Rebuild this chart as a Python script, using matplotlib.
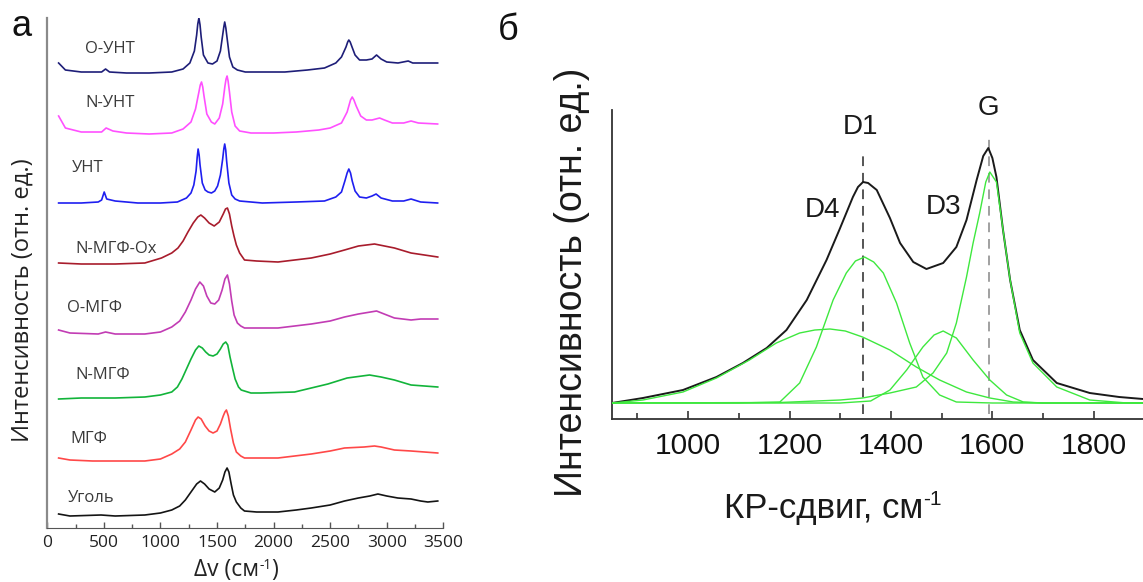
import matplotlib.pyplot as plt
from matplotlib.ticker import MultipleLocator

# ---- panel a: Raman spectra (stacked), intensity above each trace's own baseline ----
ugol_x = [100, 200, 475, 600, 862, 1000, 1100, 1170, 1220, 1270, 1320, 1354, 1390, 1430, 1480, 1520, 1550, 1570,
          1589, 1605, 1625, 1645, 1671, 1710, 1743, 1850, 2039, 2200, 2333, 2500, 2627, 2750, 2850, 2922, 3000,
          3098, 3215, 3300, 3363, 3451]
ugol_y = [2, 0, 1, 0, 1, 3, 6, 10, 16, 24, 32, 35, 32, 27, 24, 28, 36, 44,
          48, 44, 32, 21, 14, 8, 5, 4, 4, 6, 8, 11, 15, 18, 20, 22, 20,
          18, 17, 15, 14, 15]

mgf_x = [100, 200, 400, 862, 1000, 1100, 1170, 1220, 1270, 1310, 1333, 1360, 1395, 1430, 1465, 1500, 1530, 1555,
         1570, 1583, 1600, 1620, 1645, 1671, 1710, 1743, 2039, 2333, 2500, 2627, 2800, 2892, 2950, 3068, 3215, 3451]
mgf_y = [3, 1, 0, 0, 2, 7, 12, 19, 31, 41, 44, 42, 35, 30, 28, 30, 37, 45,
         49, 51, 45, 32, 18, 9, 5, 3, 3, 7, 10, 13, 14, 15, 14, 11, 10, 8]

nmgf_x = [100, 300, 600, 862, 1000, 1100, 1150, 1190, 1230, 1270, 1310, 1339, 1370, 1400, 1430, 1465, 1500, 1530,
          1555, 1577, 1595, 1615, 1637, 1660, 1690, 1714, 1800, 1890, 2186, 2480, 2650, 2848, 2950, 3068, 3215, 3451]
nmgf_y = [0, 1, 1, 2, 4, 7, 12, 20, 30, 40, 49, 53, 51, 47, 44, 43, 45, 50,
          55, 57, 54, 42, 31, 20, 12, 9, 6, 6, 7, 15, 21, 24, 22, 19, 14, 12]

omgf_x = [100, 200, 450, 515, 600, 862, 1000, 1100, 1170, 1220, 1270, 1310, 1348, 1380, 1410, 1445, 1480, 1515,
          1545, 1570, 1592, 1610, 1630, 1651, 1680, 1710, 1743, 2039, 2333, 2500, 2627, 2750, 2910, 3000, 3068,
          3215, 3300, 3451]
omgf_y = [4, 1, 0, 2, 0, 0, 2, 7, 13, 22, 34, 45, 52, 48, 38, 31, 30, 34,
          44, 55, 59, 50, 33, 19, 11, 8, 6, 6, 10, 13, 17, 20, 23, 19, 16,
          14, 15, 15]

nmgfox_x = [100, 300, 600, 862, 1009, 1100, 1155, 1200, 1243, 1290, 1330, 1357, 1390, 1430, 1475, 1520, 1555, 1575,
            1592, 1610, 1630, 1650, 1671, 1700, 1743, 1850, 2039, 2333, 2500, 2627, 2750, 2892, 2980, 3068, 3215,
            3451]
nmgfox_y = [1, 0, 0, 1, 6, 11, 16, 23, 32, 41, 47, 49, 46, 41, 38, 42, 50, 55,
            56, 50, 38, 28, 19, 11, 4, 3, 2, 6, 10, 14, 18, 20, 18, 16, 11,
            7]

unt_x = [100, 300, 450, 480, 503, 525, 600, 800, 1000, 1150, 1230, 1270, 1295, 1315, 1325, 1333, 1342, 1350, 1370,
         1395, 1420, 1451, 1480, 1505, 1530, 1550, 1560, 1568, 1577, 1585, 1605, 1630, 1660, 1700, 1900, 2200,
         2450, 2550, 2600, 2630, 2650, 2665, 2680, 2695, 2720, 2760, 2820, 2870, 2906, 2950, 3050, 3150, 3215,
         3300, 3450]
unt_y = [0, 0, 1, 3, 11, 4, 2, 0, 0, 1, 5, 10, 18, 32, 46, 54, 48, 38, 20,
         13, 11, 10, 12, 17, 28, 44, 54, 59, 53, 42, 20, 8, 4, 2, 0, 1,
         2, 6, 11, 22, 30, 34, 30, 22, 12, 6, 5, 7, 9, 5, 2, 2, 4,
         1, 0]

nunt_x = [100, 160, 300, 480, 520, 580, 700, 900, 1100, 1200, 1270, 1310, 1340, 1352, 1363, 1374, 1385, 1410, 1450,
          1480, 1520, 1550, 1570, 1580, 1589, 1598, 1610, 1630, 1660, 1700, 1800, 2000, 2200, 2400, 2500, 2600,
          2650, 2680, 2695, 2710, 2730, 2770, 2820, 2870, 2937, 2980, 3050, 3150, 3215, 3280, 3450]
nunt_y = [18, 6, 2, 2, 6, 3, 1, 0, 1, 5, 12, 25, 42, 49, 52, 47, 38, 20, 12,
          10, 16, 30, 48, 55, 58, 53, 42, 22, 8, 3, 1, 1, 2, 4, 6, 11,
          22, 34, 37, 34, 28, 18, 14, 14, 16, 14, 11, 11, 13, 11, 10]

ount_x = [100, 160, 300, 480, 515, 550, 700, 900, 1100, 1200, 1260, 1300, 1320, 1330, 1340, 1350, 1360, 1380, 1420,
          1460, 1500, 1530, 1550, 1560, 1568, 1578, 1590, 1610, 1640, 1680, 1750, 1900, 2100, 2300, 2450, 2550,
          2600, 2640, 2655, 2665, 2677, 2690, 2720, 2760, 2820, 2870, 2910, 2950, 3000, 3100, 3190, 3230, 3300,
          3450]
ount_y = [10, 3, 1, 1, 4, 1, 0, 0, 1, 4, 10, 22, 38, 49, 55, 48, 36, 18, 10,
          9, 12, 22, 38, 46, 51, 45, 34, 16, 6, 3, 1, 1, 1, 3, 5, 10,
          16, 26, 31, 33, 31, 27, 18, 13, 13, 14, 18, 14, 11, 10, 12, 10, 10,
          10]

names = ['Уголь', 'МГФ', 'N-МГФ', 'О-МГФ', 'N-МГФ-Ox', 'УНТ', 'N-УНТ', 'О-УНТ']
offsets = [12, 67, 129, 194, 264, 325, 394, 455]

# ---- panel б: deconvolution of the first-order band ----
exp_x = [850, 911, 990, 1056, 1108, 1155, 1194, 1234, 1273, 1299, 1325, 1335, 1345, 1355, 1372, 1398, 1418, 1444,
         1470, 1503, 1529, 1549, 1560, 1569, 1582, 1592, 1600, 1608, 1621, 1635, 1654, 1680, 1727, 1792, 1850, 1897]
exp_y = [17, 22, 30, 43, 57, 72, 90, 120, 160, 191, 223, 233, 238, 237, 230, 202, 177, 158,
         151, 157, 173, 200, 222, 240, 264, 272, 262, 243, 190, 140, 90, 60, 37, 27, 23, 21]

d4_x = [850, 911, 990, 1056, 1121, 1174, 1220, 1250, 1280, 1310, 1344, 1398, 1450, 1496, 1549, 1595, 1641, 1700, 1897]
d4_y = [17, 20, 28, 42, 60, 77, 87, 90, 91, 89, 83, 70, 53, 40, 28, 22, 18, 17, 17]

d1_x = [850, 1100, 1181, 1220, 1253, 1286, 1312, 1330, 1348, 1366, 1385, 1411, 1437, 1463, 1496, 1529, 1600, 1897]
d1_y = [17, 17, 18, 37, 73, 120, 147, 159, 163, 158, 147, 117, 77, 43, 25, 18, 17, 17]

d3_x = [850, 1300, 1360, 1398, 1431, 1463, 1485, 1503, 1529, 1562, 1595, 1628, 1661, 1700, 1897]
d3_y = [17, 17, 19, 30, 50, 73, 85, 89, 82, 60, 40, 25, 18, 17, 17]

g_x = [850, 1181, 1300, 1344, 1398, 1450, 1483, 1510, 1529, 1549, 1562, 1575, 1587, 1595, 1608, 1621, 1635,
       1654, 1680, 1727, 1792, 1858, 1897]
g_y = [17, 17.5, 20, 22, 27, 33, 47, 67, 97, 143, 177, 207, 238, 248, 238, 190, 140,
       87, 57, 33, 20, 17.3, 17]

band_names = ['D4', 'D1', 'D3', 'G']
d1_pos = 1345
g_pos = 1593

W, H = 1143, 582
fig = plt.figure(figsize=(W / 100, H / 100), dpi=100)

# ---------------- panel a ----------------
ax1 = fig.add_axes([47.3 / W, 1 - 528 / H, 396 / W, 510 / H])
spectra = [(ugol_x, ugol_y, '#141414'), (mgf_x, mgf_y, '#ff4848'), (nmgf_x, nmgf_y, '#12b43a'),
           (omgf_x, omgf_y, '#c23cb4'), (nmgfox_x, nmgfox_y, '#a81c2c'), (unt_x, unt_y, '#1f1ff0'),
           (nunt_x, nunt_y, '#ff50ff'), (ount_x, ount_y, '#1e1e78')]
for (x, y, c), off in zip(spectra, offsets):
    ax1.plot(x, [v + off for v in y], color=c, lw=1.2)

label_pos = [(183, 30), (200, 89), (245, 153), (175, 220), (245, 279), (218, 360), (333, 425), (333, 479)]
for name, (lx, ly) in zip(names, label_pos):
    ax1.text(lx, ly, name, fontsize=12, family='Open Sans', color='#3a3a3a', ha='left', va='center')

ax1.set_xlim(0, 3500)
ax1.set_ylim(0, 510)
ax1.spines['top'].set_visible(False)
ax1.spines['right'].set_visible(False)
ax1.spines['left'].set_color('#8a8a8a')
ax1.spines['left'].set_linewidth(1.6)
ax1.spines['bottom'].set_color('#555555')
ax1.set_yticks([])
ax1.xaxis.set_major_locator(MultipleLocator(500))
ax1.xaxis.set_minor_locator(MultipleLocator(250))
ax1.tick_params(axis='x', which='major', direction='in', length=4, width=1, color='#555555',
                labelsize=12.5, pad=5, labelcolor='#222222')
ax1.tick_params(axis='x', which='minor', direction='in', length=3, width=1, color='#555555')
for lab in ax1.get_xticklabels():
    lab.set_family('Open Sans')

fig.text(22.5 / W, 1 - 300 / H, 'Интенсивность (отн. ед.)', rotation=90, fontsize=17,
         family='Open Sans', color='#222222', ha='center', va='center')

# left x label "Δv (см-1)", superscript as a separate small text so the hyphen stays short
ta = fig.text(194 / W, 1 - 576 / H, 'Δv (см', fontsize=16.5, family='Open Sans', color='#222222',
              ha='left', va='baseline')
sa = ax1.annotate('-1', xy=(1, 0.55), xycoords=ta, fontsize=10, family='Open Sans', color='#222222',
                  ha='left', va='baseline', annotation_clip=False)
ax1.annotate(')', xy=(1, 0), xycoords=(sa, ta), fontsize=16.5, family='Open Sans', color='#222222',
             ha='left', va='bottom', annotation_clip=False)

fig.text(22 / W, 1 - 27 / H, 'а', fontsize=26, family='Liberation Sans', color='#111111',
         ha='center', va='center')

# ---------------- panel б ----------------
ax2 = fig.add_axes([612 / W, 1 - 419 / H, 531 / W, 309 / H])
for cx, cy in [(d4_x, d4_y), (d1_x, d1_y), (d3_x, d3_y), (g_x, g_y)]:
    ax2.plot(cx, cy, color='#3ee83e', lw=1.0, zorder=3)
ax2.plot(exp_x, exp_y, color='#1a1a1a', lw=1.4, zorder=2)

ax2.plot([d1_pos, d1_pos], [6, 270], color='#555555', lw=1.4, ls=(0, (5, 3.5)), zorder=1)
ax2.plot([g_pos, g_pos], [6, 285], color='#a0a0a0', lw=1.4, ls=(0, (5, 3.5)), zorder=1)

band_pos = [(1266, 210), (1340, 293), (1504, 213), (1593, 312)]
for name, (bx, by) in zip(band_names, band_pos):
    ax2.text(bx, by, name, fontsize=20, family='Liberation Sans', color='#1a1a1a',
             ha='center', va='center', clip_on=False)

ax2.set_xlim(850, 1897)
ax2.set_ylim(1, 310)
ax2.spines['top'].set_visible(False)
ax2.spines['right'].set_visible(False)
ax2.spines['left'].set_color('#333333')
ax2.spines['bottom'].set_color('#333333')
ax2.spines['left'].set_linewidth(1.3)
ax2.spines['bottom'].set_linewidth(1.3)
ax2.set_yticks([])
ax2.xaxis.set_major_locator(MultipleLocator(200))
ax2.xaxis.set_minor_locator(MultipleLocator(100))
ax2.tick_params(axis='x', which='major', direction='in', length=6, width=1.2, color='#333333',
                labelsize=21.5, pad=9, labelcolor='#111111')
ax2.tick_params(axis='x', which='minor', direction='in', length=4, width=1.2, color='#333333')
for lab in ax2.get_xticklabels():
    lab.set_family('Liberation Sans')

fig.text(572 / W, 1 - 282 / H, 'Интенсивность (отн. ед.)', rotation=90, fontsize=27,
         family='Liberation Sans', color='#1a1a1a', ha='center', va='center')

# right x label "КР-сдвиг, см-1"
tb = fig.text(724 / W, 1 - 518 / H, 'КР-сдвиг, см', fontsize=25, family='Liberation Sans',
              color='#1a1a1a', ha='left', va='baseline')
ax2.annotate('-1', xy=(1, 0.6), xycoords=tb, fontsize=15, family='Liberation Sans', color='#1a1a1a',
             ha='left', va='baseline', annotation_clip=False)

fig.text(508 / W, 1 - 30 / H, 'б', fontsize=26, family='Liberation Sans', color='#111111',
         ha='center', va='center')

fig.savefig('out.png', dpi=100, facecolor='white')
